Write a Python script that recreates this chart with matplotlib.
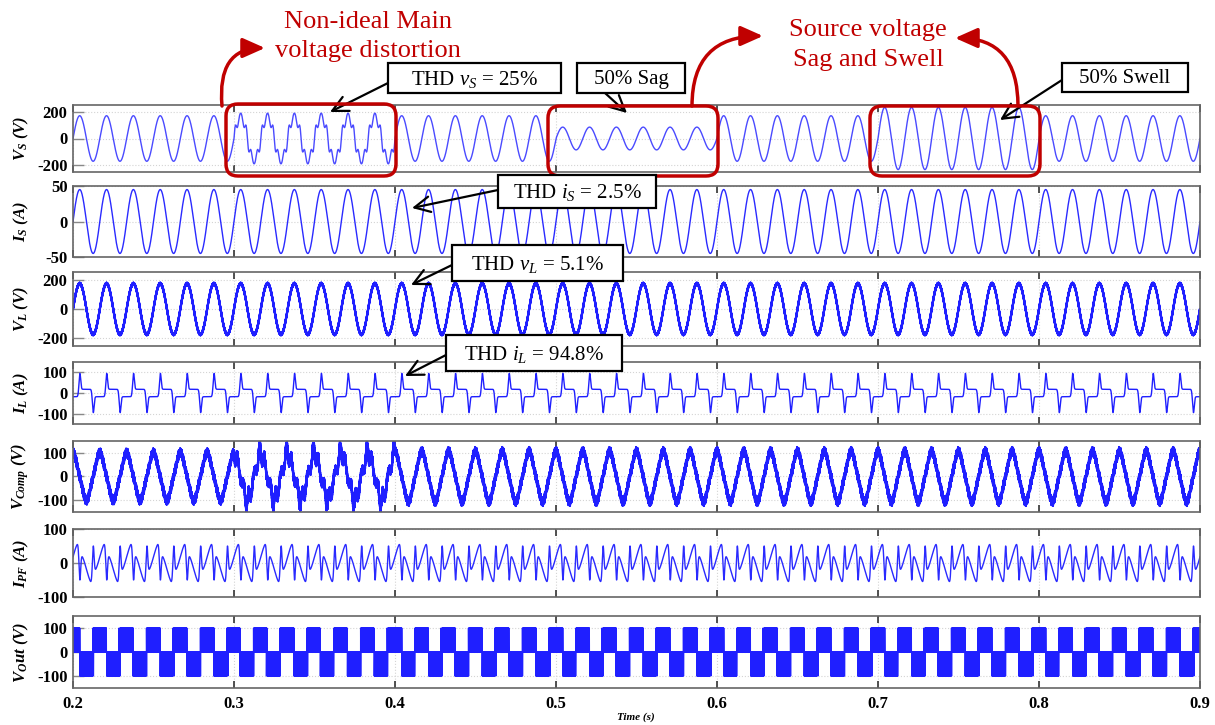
# Stacked waveform panels: source / load / compensator signals, 0.2 - 0.9 s

import numpy as np
import matplotlib
matplotlib.use("Agg")
import matplotlib.pyplot as plt
from matplotlib.patches import FancyBboxPatch, Rectangle

plt.rcParams['font.family'] = ['Liberation Serif', 'DejaVu Serif']
plt.rcParams['mathtext.fontset'] = 'custom'
plt.rcParams['mathtext.rm'] = 'Liberation Serif'
plt.rcParams['mathtext.it'] = 'Liberation Serif:italic'
plt.rcParams['mathtext.bf'] = 'Liberation Serif:bold:italic'
plt.rcParams['axes.unicode_minus'] = False

# ---- data ----
T_START, T_END = 0.2, 0.9
F_LINE = 60            # Hz, 6 cycles per 0.1 s
FS = 300000            # samples / s

SEG_EDGES = [0.2, 0.3, 0.4, 0.5, 0.6, 0.7, 0.8, 0.9]
VS_FUND = [170, 165, 170, 85, 170, 232, 170]   # V, sag / swell / distortion
VS_H5 = [0, 36, 0, 0, 0, 0, 0]
VS_H7 = [0, 12, 0, 0, 0, 0, 0]

IS_AMP = 45            # A
VL_AMP = 175           # V
VL_RIPPLE = 6
IL_PEAK = 110          # A
IL_PLATEAU = 18
IL_WIDTH = 0.28        # rad
VC_AMP = [95, 95, 100, 100, 100, 100, 100]
VC_RIPPLE = 12
VDC = 100
CARRIER_HZ = 3000

XTICKS = [0.2, 0.3, 0.4, 0.5, 0.6, 0.7, 0.8, 0.9]
XTICK_LABELS = ['0.2', '0.3', '0.4', '0.5', '0.6', '0.7', '0.8', '0.9']

YLABELS = [r'$\mathbf{V_S}$ (V)', r'$\mathbf{I_S}$ (A)', r'$\mathbf{V_L}$ (V)',
           r'$\mathbf{I_L}$ (A)', r'$\mathbf{V_{Comp}}$ (V)',
           r'$\mathbf{I_{PF}}$ (A)', r'$\mathbf{V_O}$ut (V)']
YTICKS = [[-200, 0, 200], [-50, 0, 50], [-200, 0, 200], [-100, 0, 100],
          [-100, 0, 100], [-100, 0, 100], [-100, 0, 100]]
YLIMS = [(-250, 250), (-50, 50), (-255, 255), (-150, 150),
         (-150, 150), (-100, 100), (-150, 150)]

HIGHLIGHT = [(0.3, 0.4), (0.5, 0.6), (0.7, 0.8)]

# ---- build waveforms ----
t = np.arange(T_START, T_END, 1.0 / FS)
th = 2 * np.pi * F_LINE * t
seg = np.clip(np.searchsorted(SEG_EDGES, t, side='right') - 1, 0, 6)

vs = (np.take(VS_FUND, seg) * np.sin(th) + np.take(VS_H5, seg) * np.sin(5 * th)
      + np.take(VS_H7, seg) * np.sin(7 * th))
i_s = IS_AMP * np.sin(th)
vl = VL_AMP * np.sin(th) + VL_RIPPLE * np.sin(2 * np.pi * 9700 * t)

ph = np.mod(th, 2 * np.pi)
pos = np.exp(-((ph - np.pi / 2) / IL_WIDTH) ** 2)
neg = np.exp(-((ph - 3 * np.pi / 2) / IL_WIDTH) ** 2)
il = IL_PLATEAU * np.tanh(-np.cos(th) / 0.15) + (IL_PEAK - IL_PLATEAU) * (pos - neg)
ipf = i_s - il

shape = np.cos(th) + np.cos(3 * th) / 14
vc = (np.take(VC_AMP, seg) * shape
      - 0.8 * np.take(VS_H5, seg) * np.sin(5 * th)
      - 0.8 * np.take(VS_H7, seg) * np.sin(7 * th)
      + VC_RIPPLE * np.sin(2 * np.pi * 9700 * t)
      + 0.5 * VC_RIPPLE * np.sin(2 * np.pi * 1130 * t))

m = np.clip(vc / 110.0, -0.97, 0.97)
car = 2 * np.abs(2 * np.mod(t * CARRIER_HZ, 1) - 1) - 1
vout = VDC * ((m > car).astype(float) - (-m > car).astype(float))

series = [vs, i_s, vl, il, vc, ipf, vout]
widths = [1.0, 1.0, 1.5, 1.0, 1.5, 1.0, 0.8]
colors = ['#4a4aff', '#2a2aff', '#1f1fff', '#1f1fff', '#1f1fff', '#2a2aff', '#1f1fff']

# ---- layout (pixels) ----
W, H = 1215, 725
LEFT, RIGHT = 73, 1200
AX_TOP = [105, 186, 272, 362, 441, 529, 616]
AX_BOT = [172, 257, 346, 424, 512, 597, 688]

fig = plt.figure(figsize=(W / 100, H / 100), dpi=100)
axes = []
for k in range(7):
    ax = fig.add_axes([LEFT / W, 1 - AX_BOT[k] / H, (RIGHT - LEFT) / W,
                       (AX_BOT[k] - AX_TOP[k]) / H])
    ax.plot(t, series[k], color=colors[k], lw=widths[k])
    ax.set_xlim(T_START, T_END)
    ax.set_ylim(YLIMS[k])
    ax.set_xticks(XTICKS)
    ax.set_yticks(YTICKS[k])
    ax.set_yticklabels([str(v) for v in YTICKS[k]], fontsize=12, fontweight='bold')
    if k == 6:
        ax.set_xticklabels(XTICK_LABELS, fontsize=12, fontweight='bold')
    else:
        ax.set_xticklabels([])
    ax.grid(True, color='#d4d4d4', ls=':', lw=0.8)
    ax.tick_params(axis='x', direction='in', top=True, length=5, width=1.1,
                   color='#222222', pad=6)
    ax.tick_params(axis='y', direction='in', length=8, width=1.0, color='#888888',
                   pad=4)
    for s in ax.spines.values():
        s.set_color('#666666')
        s.set_linewidth(1.2)
    ax.set_ylabel(YLABELS[k], fontsize=12, fontweight='bold', fontstyle='italic')
    ax.yaxis.set_label_coords(-0.037, 0.5)
    axes.append(ax)

fig.text(636 / W, 1 - 717 / H, 'Time (s)', fontsize=8, fontweight='bold',
         fontstyle='italic', ha='center', va='center')

# ---- annotation overlay in pixel coordinates ----
ov = fig.add_axes([0, 0, 1, 1])
ov.set_xlim(0, W)
ov.set_ylim(H, 0)
ov.axis('off')
ov.patch.set_alpha(0)


def t2px(x):
    return LEFT + (x - T_START) / (T_END - T_START) * (RIGHT - LEFT)


red = '#c00000'
box_y = [(104, 176), (106, 176), (106, 176)]
for (a, b), (y0, y1) in zip(HIGHLIGHT, box_y):
    x0, x1 = t2px(a) - 8, t2px(b) + 1
    ov.add_patch(FancyBboxPatch((x0, y0), x1 - x0, y1 - y0,
                                boxstyle='round,pad=0,rounding_size=12',
                                fc='none', ec=red, lw=2.5, zorder=5))

ov.text(368, 22, 'Non-ideal Main', color=red, fontsize=19, ha='center', va='center')
ov.text(368, 51, 'voltage distortion', color=red, fontsize=19, ha='center', va='center')
ov.text(868, 30, 'Source voltage', color=red, fontsize=19, ha='center', va='center')
ov.text(868, 60, 'Sag and Swell', color=red, fontsize=19, ha='center', va='center')

red_arrows = [((222, 106), (265, 48), 'angle3,angleA=95,angleB=0'),
              ((692, 106), (763, 36), 'angle3,angleA=90,angleB=0'),
              ((1018, 106), (955, 38), 'angle3,angleA=90,angleB=0')]
for tail, head, cs in red_arrows:
    ov.annotate('', xy=head, xytext=tail,
                arrowprops=dict(arrowstyle='-|>,head_length=0.9,head_width=0.4',
                                color=red, lw=2.5, shrinkA=0, shrinkB=0,
                                mutation_scale=15, connectionstyle=cs))

labels = [('THD $v_S$ = 25%', (388, 63, 561, 93), (388, 83), (330, 112)),
          ('50% Sag', (577, 63, 685, 93), (605, 93), (627, 113)),
          ('50% Swell', (1062, 63, 1188, 92), (1062, 80), (1000, 120)),
          ('THD $i_S$ = 2.5%', (498, 175, 656, 208), (498, 190), (412, 208)),
          ('THD $v_L$ = 5.1%', (452, 245, 623, 281), (452, 265), (411, 285)),
          ('THD $i_L$ = 94.8%', (446, 335, 622, 371), (446, 355), (405, 376))]
for txt, (x0, y0, x1, y1), tail, head in labels:
    ov.add_patch(Rectangle((x0, y0), x1 - x0, y1 - y0, fc='white', ec='black',
                           lw=1.6, zorder=6))
    ov.text((x0 + x1) / 2, (y0 + y1) / 2 + 1, txt, fontsize=15, ha='center',
            va='center', zorder=7)
    ov.annotate('', xy=head, xytext=tail,
                arrowprops=dict(arrowstyle='->,head_length=0.7,head_width=0.35',
                                color='black', lw=1.6, shrinkA=0, shrinkB=0,
                                mutation_scale=16))

fig.savefig('out.png', dpi=100)
